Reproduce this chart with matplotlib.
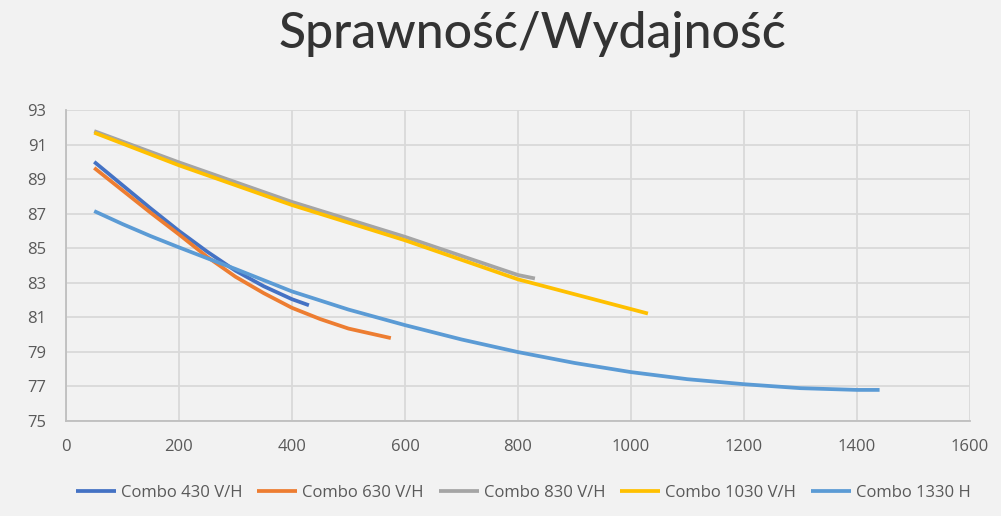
import matplotlib.pyplot as plt

# flow vs efficiency
x_430 = [50, 100, 150, 200, 250, 300, 350, 400, 430]
y_430 = [90.0, 88.65, 87.3, 86.0, 84.8, 83.7, 82.8, 82.05, 81.7]

x_630 = [50, 100, 150, 200, 250, 300, 350, 400, 450, 500, 575]
y_630 = [89.65, 88.35, 87.05, 85.8, 84.5, 83.35, 82.4, 81.55, 80.9, 80.35, 79.8]

x_830 = [50, 200, 400, 600, 800, 830]
y_830 = [91.78, 89.97, 87.68, 85.66, 83.45, 83.25]

x_1030 = [50, 200, 400, 600, 800, 1030]
y_1030 = [91.69, 89.8, 87.5, 85.46, 83.2, 81.22]

x_1330 = [50, 100, 150, 200, 250, 300, 350, 400, 500, 600, 700, 800,
          900, 1000, 1100, 1200, 1300, 1400, 1440]
y_1330 = [87.15, 86.4, 85.7, 85.05, 84.42, 83.8, 83.15, 82.5, 81.45, 80.55,
          79.72, 78.99, 78.36, 77.83, 77.42, 77.13, 76.9, 76.8, 76.8]

labels = ['Combo 430 V/H', 'Combo 630 V/H', 'Combo 830 V/H',
          'Combo 1030 V/H', 'Combo 1330 H']
colors = ['#4472C4', '#ED7D31', '#A5A5A5', '#FFC000', '#5B9BD5']
series = [(x_430, y_430), (x_630, y_630), (x_830, y_830),
          (x_1030, y_1030), (x_1330, y_1330)]

bg = '#f2f2f2'
fig = plt.figure(figsize=(10.01, 5.16), dpi=100, facecolor=bg)
ax = fig.add_axes([0.0659, 0.1841, 0.9031, 0.6027], facecolor=bg)

for (xs, ys), lab, col in zip(series, labels, colors):
    ax.plot(xs, ys, color=col, linewidth=2.7, label=lab,
            solid_capstyle='butt', solid_joinstyle='round', zorder=3)

ax.set_xlim(0, 1600)
ax.set_ylim(75, 93)
ax.set_xticks(range(0, 1601, 200))
ax.set_yticks(range(75, 94, 2))
ax.grid(True, color='#d9d9d9', linewidth=1.3)
ax.set_axisbelow(True)
for side in ['top', 'right']:
    ax.spines[side].set_visible(False)
for side in ['left', 'bottom']:
    ax.spines[side].set_color('#bfbfbf')
    ax.spines[side].set_linewidth(1.3)
ax.tick_params(axis='x', length=0, pad=13, labelsize=12, labelcolor='#595959')
ax.tick_params(axis='y', length=0, pad=14, labelsize=12, labelcolor='#595959')
for t in ax.get_xticklabels() + ax.get_yticklabels():
    t.set_family('Open Sans')

fig.text(0.532, 0.935, 'Sprawność/Wydajność', ha='center', va='center',
         fontsize=36, color='#333333', family='Lato', fontweight='medium')

fig.legend(loc='center', bbox_to_anchor=(0.523, 0.045), ncol=5, frameon=False,
           prop={'family': 'Open Sans', 'size': 12}, labelcolor='#595959',
           handlelength=2.4, handletextpad=0.3, columnspacing=0.9)

fig.savefig('out.png', dpi=100, facecolor=bg)
